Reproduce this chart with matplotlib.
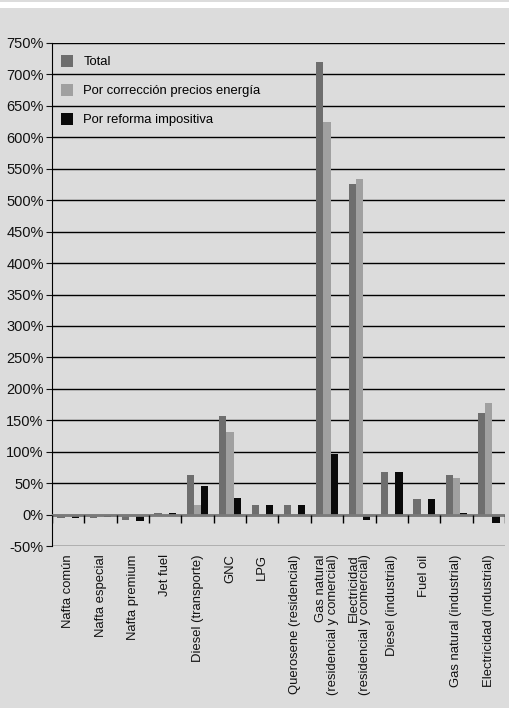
import matplotlib.pyplot as plt
from matplotlib.patches import Rectangle
import numpy as np

categorias = ["Nafta común", "Nafta especial", "Nafta premium", "Jet fuel",
              "Diesel (transporte)", "GNC", "LPG", "Querosene (residencial)",
              "Gas natural\n(residencial y comercial)",
              "Electricidad\n(residencial y comercial)",
              "Diesel (industrial)", "Fuel oil", "Gas natural (industrial)",
              "Electricidad (industrial)"]
total = [-5, -5, -9, 3, 63, 157, 15, 15, 720, 525, 67, 24, 63, 161]
correccion = [0, 0, 0, 0, 16, 131, 0, 0, 624, 533, 0, 0, 58, 178]
reforma = [-5, -4, -10, 3, 46, 26, 15, 15, 96, -9, 67, 24, 3, -14]
yticks = list(range(-50, 751, 50))

bg = '#dcdcdc'
plt.rcParams['font.family'] = ['Liberation Sans']

fig = plt.figure(figsize=(5.1, 7.08), dpi=100, facecolor=bg)
fig.patches.append(Rectangle((0, 1 - 7.5/708), 1, 5/708, transform=fig.transFigure,
                             facecolor='white', edgecolor='none'))
ax = fig.add_axes([52/510, 1 - 546/708, 453/510, 503/708])
ax.set_facecolor(bg)

x = np.arange(len(categorias))
w = 0.222
ax.bar(x - w, total, w, color='#6e6e6e', label='Total', zorder=3)
ax.bar(x, correccion, w, color='#a0a0a0', label='Por corrección precios energía', zorder=3)
ax.bar(x + w, reforma, w, color='#0a0a0a', label='Por reforma impositiva', zorder=3)

ax.set_xlim(-0.5, len(categorias) - 0.5)
ax.set_ylim(-50, 750)
ax.set_yticks(yticks)
ax.set_yticklabels([f'{v}%' for v in yticks])
ax.yaxis.grid(True, color='black', linewidth=1, zorder=1)
ax.set_axisbelow(True)

# linea de cero y marcas entre grupos
ax.axhline(0, color='#7a7a7a', linewidth=2, zorder=4)
ax.vlines(np.arange(len(categorias) + 1) - 0.5, -13, 0, color='black', linewidth=1, zorder=4)

ax.set_xticks(x)
ax.set_xticklabels(categorias, rotation=90, ma='right', fontsize=9.4, color='#111111',
                   linespacing=0.95)
ax.tick_params(axis='x', length=0, pad=6)
ax.tick_params(axis='y', length=4, labelsize=10.5, colors='#111111', pad=2)

for s in ['top', 'right', 'bottom']:
    ax.spines[s].set_visible(False)
ax.spines['left'].set_color('black')

ax.legend(loc='upper left', frameon=False, fontsize=9.4, handlelength=0.9, handleheight=1.0,
          labelspacing=1.2, handletextpad=0.8, borderaxespad=0.3,
          bbox_to_anchor=(0.0, 0.994))

fig.savefig('out.png', dpi=100, facecolor=bg)
